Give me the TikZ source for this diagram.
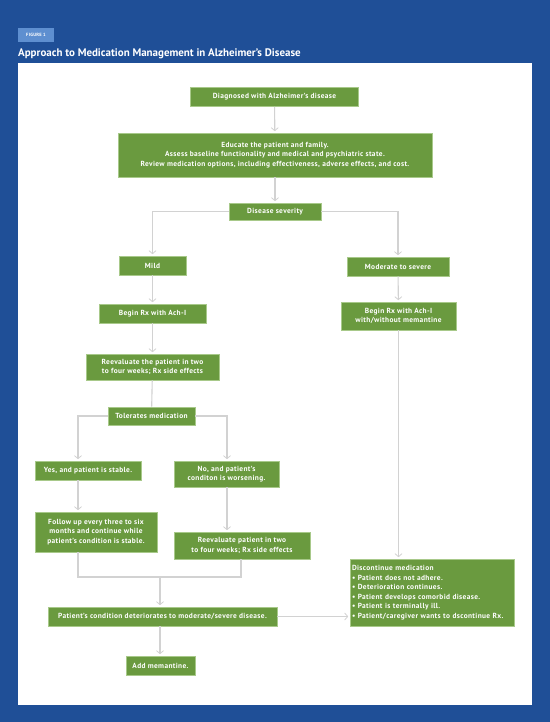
\documentclass[tikz,border=0pt]{standalone}
\usepackage{fontspec}
\setmainfont{PT Sans}
\newfontfamily\boxfont{PT Sans}[LetterSpace=5]
\usetikzlibrary{arrows.meta}
\definecolor{figblue}{HTML}{1F4F97}
\definecolor{tagblue}{HTML}{5E8FD0}
\definecolor{boxgreen}{HTML}{6A9A3F}
\definecolor{boxedge}{HTML}{A8C98A}
\definecolor{linegray}{HTML}{D2D2D2}
\tikzset{
  box/.style={fill=boxgreen, draw=boxedge, line width=0.6bp, text=white, align=center,
    inner sep=2bp, font=\boxfont\fontsize{7.4}{9.5}\selectfont\bfseries},
  link/.style={draw=linegray, line width=1.1bp},
  arr/.style={link, -{Straight Barb[length=3bp,width=7bp,line width=0.8bp]}, shorten >=1.5bp}
}
\begin{document}
\begin{tikzpicture}[x=1bp, y=-1bp]
    % frame
    \useasboundingbox (0,0) rectangle (550,722);
    \fill [figblue] (0,0) rectangle (550,722);
    \fill [white] (18,63) rectangle (532,705);
    \node [fill=tagblue, text=white, font=\boxfont\fontsize{4.6}{5}\selectfont\bfseries, minimum width=36bp, minimum height=14bp, inner sep=0pt, name=tag] at (36,35) {FIGURE 1};
    \node [anchor=base west, text=white, font=\fontsize{11}{13}\selectfont\bfseries, inner sep=0pt, name=title] at (18,57) {Approach to Medication Management in Alzheimer’s Disease};

    % top of chart
    \node [box, minimum width=168bp, minimum height=19bp, name=diag] at (274.5,97) {Diagnosed with Alzheimer’s disease};
    \node [box, minimum width=314bp, minimum height=44bp, name=edu] at (275,155) {Educate the patient and family.\\Assess baseline functionality and medical and psychiatric state.\\Review medication options, including effectiveness, adverse effects, and cost.};
    \node [box, minimum width=92bp, minimum height=17bp, name=sev] at (275,211.5) {Disease severity};
    \draw [arr] (diag) -- (edu);
    \draw [arr] (edu) -- (sev);

    % mild branch
    \node [box, minimum width=67bp, minimum height=19bp, name=mild] at (152.5,265.5) {Mild};
    \node [box, minimum width=107bp, minimum height=19bp, name=rxa] at (152.5,313.5) {Begin Rx with Ach-I};
    \node [box, minimum width=133bp, minimum height=26bp, name=reev] at (152.5,367) {Reevaluate the patient in two\\to four weeks; Rx side effects};
    \node [box, minimum width=87bp, minimum height=18bp, name=tol] at (151.5,416) {Tolerates medication};
    \draw [arr] (sev.west) -| (mild.north);
    \draw [arr] (mild) -- (rxa);
    \draw [arr] (rxa) -- (reev);
    \draw [link] (reev) -- (tol);

    % moderate branch
    \node [box, minimum width=102bp, minimum height=19bp, name=mod] at (398,266.5) {Moderate to severe};
    \node [box, minimum width=115bp, minimum height=28bp, name=rxb] at (398.5,316) {Begin Rx with Ach-I\\with/without memantine};
    \node [box, align=left, text width=160bp, minimum height=67bp, name=disc] at (432,592.5) {Discontinue medication\\\textbullet\ Patient does not adhere.\\\textbullet\ Deterioration continues.\\\textbullet\ Patient develops comorbid disease.\\\textbullet\ Patient is terminally ill.\\\textbullet\ Patient/caregiver wants to dscontinue Rx.};
    \draw [arr] (sev.east) -| (mod.north);
    \draw [arr] (mod) -- (rxb);
    \draw [arr] (rxb.south) -- (rxb.south |- disc.north);

    % tolerance split
    \coordinate (colL) at (78,440);
    \coordinate (colR) at (227,440);
    \coordinate (mrg) at (160,577);
    \node [box, minimum width=106bp, minimum height=19bp, name=yes] at (88,470.5) {Yes, and patient is stable.};
    \node [box, minimum width=105bp, minimum height=26bp, name=no] at (226.5,474) {No, and patient’s\\conditon is worsening.};
    \node [box, minimum width=122bp, minimum height=40bp, name=fol] at (96,532) {Follow up every three to six\\months and continue while\\patient’s condition is stable.};
    \node [box, minimum width=136bp, minimum height=27bp, name=reevb] at (242,545.5) {Reevaluate patient in two\\to four weeks; Rx side effects};
    \draw [arr] (tol.west) -| (yes.north -| colL);
    \draw [arr] (tol.east) -| (no.north -| colR);
    \draw [arr] (yes.south -| colL) -- (fol.north -| colL);
    \draw [arr] (no.south -| colR) -- (reevb.north -| colR);

    % merge and end
    \node [box, minimum width=229bp, minimum height=19bp, name=det] at (162.5,616.5) {Patient’s condition deteriorates to moderate/severe disease.};
    \node [box, minimum width=69bp, minimum height=19bp, name=add] at (160.5,665.5) {Add memantine.};
    \draw [link] (fol.south -| colL) |- (mrg);
    \draw [link] (reevb.south -| 241,0) |- (mrg);
    \draw [arr] (mrg) -- (det.north -| mrg);
    \draw [arr] (det.south -| mrg) -- (add.north -| mrg);
    \draw [arr] (det.east) -- (det.east -| disc.west);
\end{tikzpicture}
\end{document}
